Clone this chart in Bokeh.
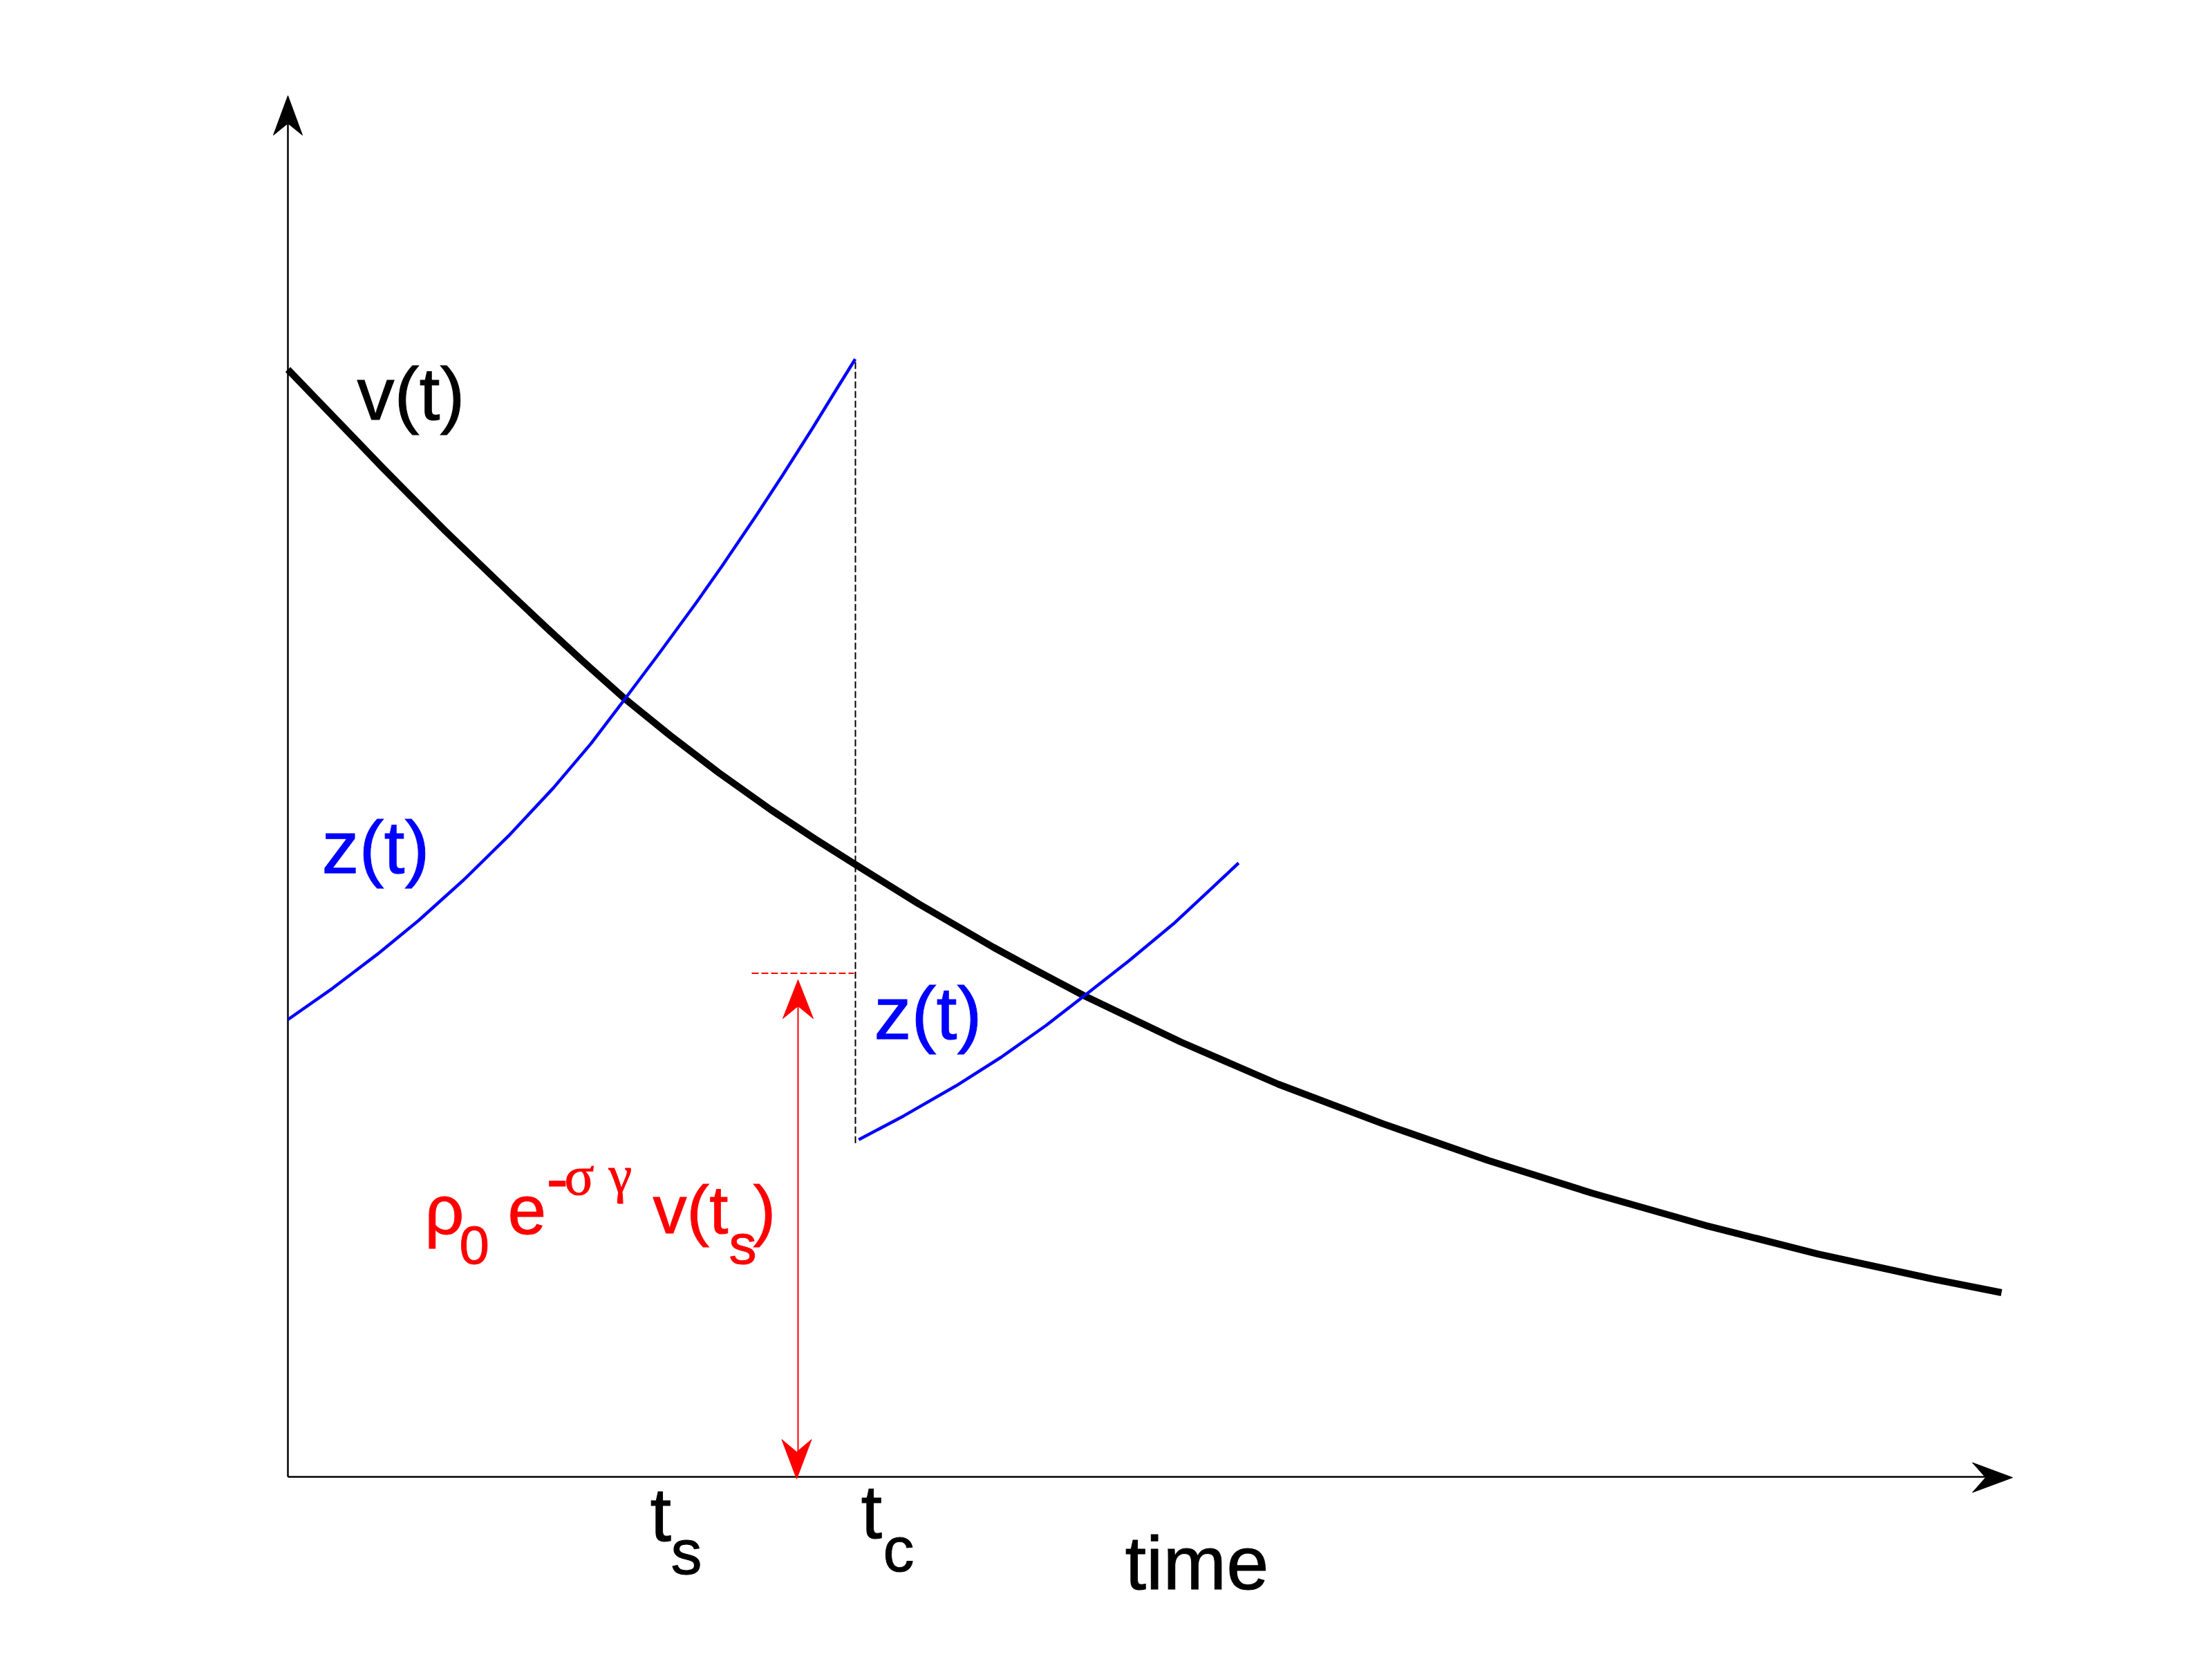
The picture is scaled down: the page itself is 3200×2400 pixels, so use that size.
from bokeh.plotting import figure
from bokeh.models import Range1d
from bokeh.core.properties import value
from bokeh.embed import file_html
from bokeh.resources import INLINE

# ---- data (schematic units: time on x, magnitude on y) ----
v_t = [0.0, 0.482, 0.916, 1.349, 1.783, 2.271, 2.759, 3.247, 3.735, 4.277,
       4.873, 5.524, 6.228, 6.987, 7.638, 8.207, 9.124, 10.208, 10.742, 11.509,
       12.919, 14.328, 15.846, 17.363, 18.881, 20.507, 22.134, 23.76, 24.79]
v_y = [16.02, 15.52, 15.07, 14.62, 14.18, 13.69, 13.22, 12.75, 12.29, 11.79,
       11.258, 10.73, 10.19, 9.65, 9.22, 8.86, 8.29, 7.66, 7.37, 6.965,
       6.29, 5.68, 5.106, 4.578, 4.10, 3.637, 3.224, 2.87, 2.665]

z1_t = [0.0, 0.645, 1.295, 1.892, 2.542, 3.193, 3.843, 4.385, 4.873, 5.361,
        5.903, 6.283, 6.77, 7.15, 7.583, 7.909, 8.207]
z1_y = [6.615, 7.067, 7.561, 8.050, 8.635, 9.273, 9.969, 10.609, 11.25, 11.90,
        12.64, 13.18, 13.90, 14.48, 15.16, 15.69, 16.17]

z2_t = [8.257, 8.907, 9.666, 10.317, 10.967, 11.509, 12.16, 12.81, 13.352, 13.753]
z2_y = [4.877, 5.221, 5.657, 6.07, 6.53, 6.95, 7.46, 7.999, 8.504, 8.88]

t_s = 5.24          # marked switching time
t_c = 8.21          # reset time
reset_level = 7.285 # rho0 e^{-sigma gamma} v(t_s)
red_x = 7.38        # position of the double arrow
x_end = 24.95
y_end = 19.98

SANS = value("Liberation Sans")
SERIF = value("Liberation Serif")

p = figure(width=3200, height=2400, output_backend="svg", toolbar_location=None,
           x_range=Range1d(-4.16, 27.84), y_range=Range1d(-2.64, 21.36),
           x_axis_type=None, y_axis_type=None, min_border=0,
           background_fill_color="white", border_fill_color="white")
p.outline_line_color = None
p.grid.visible = False


def head(tx, ty, dx, dy, length, width, notch):
    # filled notched arrow head, tip at (tx,ty), pointing along (dx,dy)
    px, py = -dy, dx
    bx, by = tx - dx * length, ty - dy * length
    xs = [tx, bx + px * width / 2, tx - dx * notch, bx - px * width / 2]
    ys = [ty, by + py * width / 2, ty - dy * notch, by - py * width / 2]
    return xs, ys


# axes
p.line([0, 0], [0, y_end - 0.3], line_color="black", line_width=2.5)
p.line([0, x_end - 0.3], [0, 0], line_color="black", line_width=2.5)
hx, hy = head(0, y_end, 0, 1, 0.57, 0.42, 0.40)
p.patch(hx, hy, fill_color="black", line_color="black", line_width=1)
hx, hy = head(x_end, -0.01, 1, 0, 0.58, 0.43, 0.39)
p.patch(hx, hy, fill_color="black", line_color="black", line_width=1)

# dashed guides
p.line([t_c, t_c], [z2_y[0] - 0.05, z1_y[-1]], line_color="black", line_width=2,
       line_dash="10 4")
p.line([6.71, t_c - 0.02], [reset_level, reset_level], line_color="red",
       line_width=2, line_dash="10 4")

# curves
p.line(v_t, v_y, line_color="black", line_width=10, line_join="round")
p.line(z1_t, z1_y, line_color="blue", line_width=4.5, line_join="round")
p.line(z2_t, z2_y, line_color="blue", line_width=4.5, line_join="round")

# red double arrow
p.line([red_x, red_x], [0.3, reset_level - 0.45], line_color="red", line_width=2)
hx, hy = head(red_x, reset_level - 0.095, 0, 1, 0.56, 0.44, 0.38)
p.patch(hx, hy, fill_color="red", line_color="red", line_width=1)
hx, hy = head(red_x - 0.02, -0.03, 0, -1, 0.57, 0.43, 0.39)
p.patch(hx, hy, fill_color="red", line_color="red", line_width=1)

SHIFT = 0.37  # baseline correction for the renderer


def label(x, y, s, size, color="black", font=SANS):
    p.text(x=[x], y=[y + SHIFT], text=[s], text_font=font,
           text_font_size=f"{size}px", text_color=color,
           text_outline_color=color,
           text_align="left", text_baseline="alphabetic")


# curve labels
label(1.00, 15.30, "v(t)", 108)
label(0.49, 8.74, "z(t)", 108, "blue")
label(8.48, 6.34, "z(t)", 108, "blue")

# time axis labels
label(t_s, -0.91, "t", 110)
label(t_s + 0.30, -1.46, "s", 90)
label(t_c + 0.08, -0.87, "t", 110)
label(t_c + 0.40, -1.42, "c", 90)
label(12.11, -1.61, "time", 110)

# formula: rho_0 e^{-sigma gamma} v(t_s)
label(1.98, 3.50, "ρ", 100, "red")
label(2.48, 2.99, "0", 78, "red")
label(3.18, 3.49, "e", 100, "red")
label(3.74, 3.95, "-", 95, "red")
label(4.00, 3.99, "σ", 80, "red", SERIF)
label(4.64, 4.01, "γ", 76, "red", SERIF)
label(5.28, 3.50, "v(t", 98, "red")
label(6.38, 2.99, "s", 80, "red")
label(6.73, 3.50, ")", 98, "red")

open("out.html", "w").write(file_html(p, INLINE))
